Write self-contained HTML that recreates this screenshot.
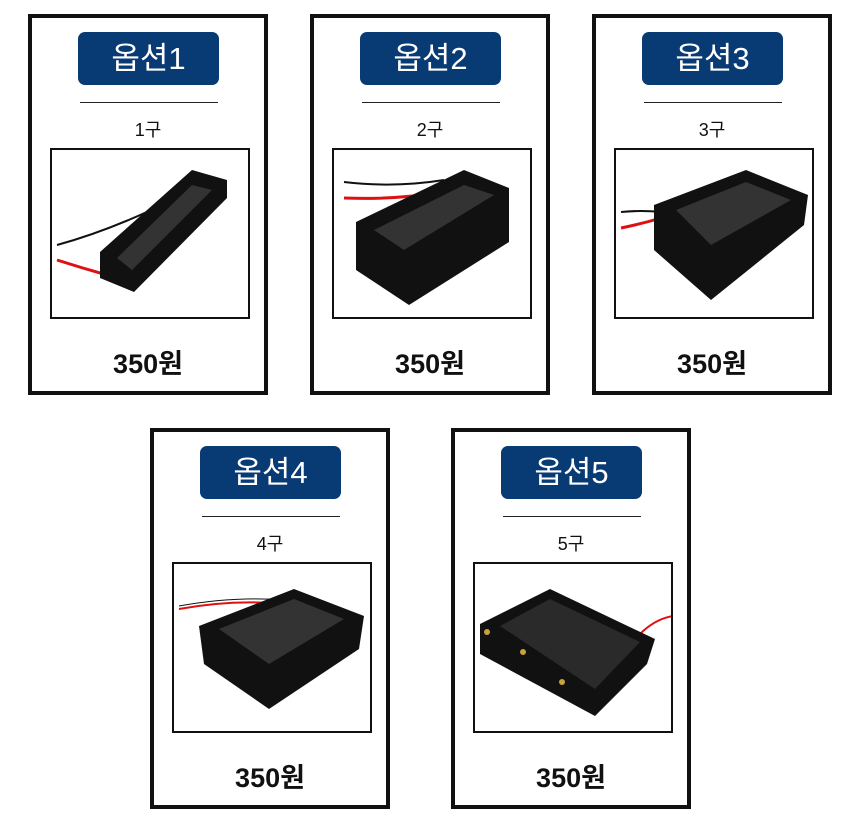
<!DOCTYPE html>
<html><head><meta charset="utf-8"><style>
body{margin:0;width:860px;height:829px;background:#fff;position:relative;font-family:"Liberation Sans","Noto Sans CJK KR",sans-serif;overflow:hidden}
.card{position:absolute;width:232px;height:373px;border:4px solid #111;background:#fff}
.badge{position:absolute;left:46px;top:14px;width:141px;height:53px;background:#083a74;border-radius:7px;color:#fff;font-size:31px;text-align:center;line-height:53px}
.line{position:absolute;left:48px;top:84px;width:138px;height:1px;background:#222}
.sub{position:absolute;left:0;width:232px;top:98px;text-align:center;font-size:18px;color:#111}
.img{position:absolute;left:18px;top:130px;width:196px;height:167px;border:2px solid #111;background:#fff}
.price{position:absolute;left:0;width:232px;top:324px;text-align:center;font-size:27px;font-weight:bold;color:#111}
svg{position:absolute;left:0;top:0}
</style></head><body>

<div class="card" style="left:28px;top:14px"><div class="badge">옵션1</div><div class="line"></div><div class="sub">1구</div>
<div class="img"><svg width="196" height="167"><path d="M5 95 Q60 80 120 50 Q140 40 150 35" stroke="#111" stroke-width="2" fill="none"/><path d="M5 110 Q30 118 55 125" stroke="#e01010" stroke-width="3" fill="none"/><polygon points="48,102 140,20 175,30 175,48 82,142 48,128" fill="#111"/><polygon points="65,108 140,35 160,40 80,120" fill="#333"/></svg></div>
<div class="price">350원</div></div>

<div class="card" style="left:310px;top:14px"><div class="badge">옵션2</div><div class="line"></div><div class="sub">2구</div>
<div class="img"><svg width="196" height="167"><path d="M10 32 Q60 38 110 30" stroke="#111" stroke-width="2" fill="none"/><path d="M10 48 Q60 50 110 42" stroke="#e01010" stroke-width="3" fill="none"/><polygon points="22,72 130,20 175,38 175,92 75,155 22,120" fill="#111"/><polygon points="40,80 130,35 160,45 70,100" fill="#333"/></svg></div>
<div class="price">350원</div></div>

<div class="card" style="left:592px;top:14px"><div class="badge">옵션3</div><div class="line"></div><div class="sub">3구</div>
<div class="img"><svg width="196" height="167"><path d="M5 62 Q25 60 45 62" stroke="#111" stroke-width="2" fill="none"/><path d="M5 78 Q25 74 45 68" stroke="#e01010" stroke-width="3" fill="none"/><polygon points="38,55 130,20 192,45 188,75 95,150 38,100" fill="#111"/><polygon points="60,60 130,32 175,50 95,95" fill="#333"/></svg></div>
<div class="price">350원</div></div>

<div class="card" style="left:150px;top:428px"><div class="badge">옵션4</div><div class="line"></div><div class="sub">4구</div>
<div class="img"><svg width="196" height="167"><path d="M5 45 Q60 35 110 40" stroke="#e01010" stroke-width="2" fill="none"/><path d="M5 42 Q60 32 110 36" stroke="#111" stroke-width="1" fill="none"/><polygon points="25,62 120,25 190,52 185,85 95,145 30,100" fill="#111"/><polygon points="45,65 120,35 170,55 95,100" fill="#333"/></svg></div>
<div class="price">350원</div></div>

<div class="card" style="left:451px;top:428px"><div class="badge">옵션5</div><div class="line"></div><div class="sub">5구</div>
<div class="img"><svg width="196" height="167"><path d="M165 70 Q180 55 198 52" stroke="#e01010" stroke-width="2" fill="none"/><polygon points="5,60 75,25 180,75 172,100 120,152 5,90" fill="#111"/><polygon points="25,62 75,35 165,78 120,125" fill="#2a2a2a"/><circle cx="12" cy="68" r="3" fill="#c9a23a"/><circle cx="48" cy="88" r="3" fill="#c9a23a"/><circle cx="87" cy="118" r="3" fill="#c9a23a"/></svg></div>
<div class="price">350원</div></div>

</body></html>
